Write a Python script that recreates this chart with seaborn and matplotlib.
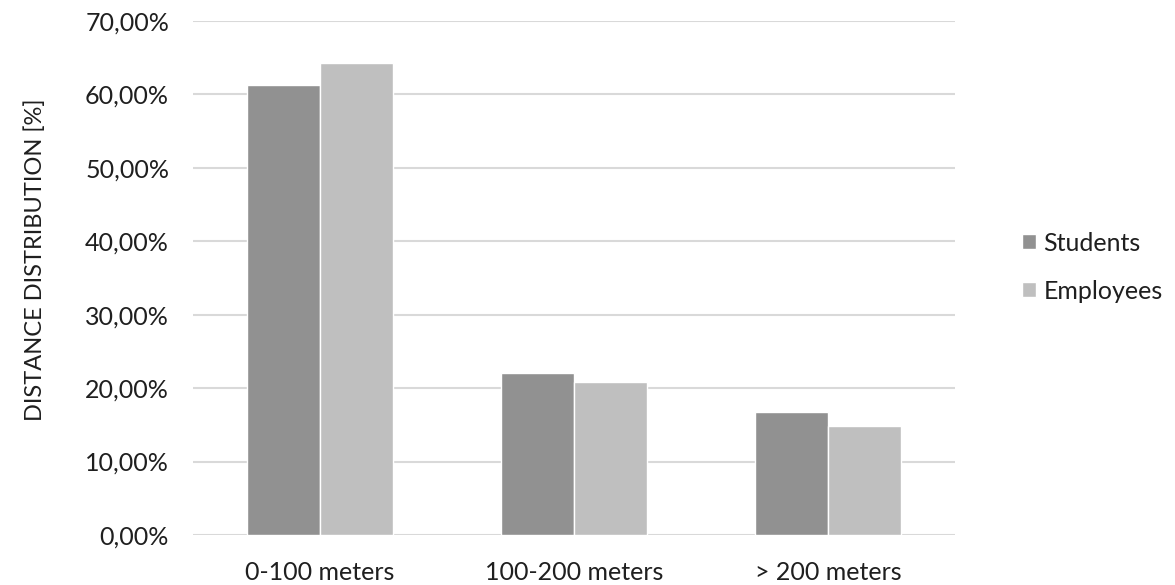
import numpy as np
import pandas as pd
import matplotlib
matplotlib.use("Agg")
import matplotlib.pyplot as plt
import seaborn as sns
from matplotlib.ticker import FuncFormatter

# values (percent)
categories = ["0-100 meters", "100-200 meters", "> 200 meters"]
students = [61.3, 22.1, 16.7]
employees = [64.3, 20.8, 14.8]
y_ticks = [0, 10, 20, 30, 40, 50, 60, 70]

df = pd.DataFrame({
    "distance": categories * 2,
    "group": ["Students"] * 3 + ["Employees"] * 3,
    "value": students + employees,
})

sns.set_style("white")
plt.rcParams['font.family'] = ['Lato', 'DejaVu Sans']
text_color = "#1f1f1f"

fig = plt.figure(figsize=(11.75, 5.85), dpi=100)
ax = fig.add_axes([0.164, 0.0855, 0.649, 0.8785])

sns.barplot(data=df, x="distance", y="value", hue="group",
            palette={"Students": "#919191", "Employees": "#bfbfbf"},
            width=0.576, saturation=1, ax=ax, zorder=3)

ax.set_xlim(-0.5, 2.5)
ax.set_ylim(0, 70)
ax.set_yticks(y_ticks)
ax.yaxis.set_major_formatter(FuncFormatter(lambda v, p: f"{v:.2f}%".replace(".", ",")))
ax.grid(axis='y', color="#d9d9d9", linewidth=1.5, zorder=0)
ax.set_axisbelow(True)
for s in ax.spines.values():
    s.set_visible(False)
ax.tick_params(axis='both', length=0, labelsize=18, labelcolor=text_color)
ax.tick_params(axis='y', pad=17)
ax.tick_params(axis='x', pad=19)
ax.set_xlabel("")
ax.set_ylabel("DISTANCE DISTRIBUTION [%]", fontsize=17, color=text_color, labelpad=28)
ax.yaxis.label.set_y(0.535)

leg = ax.legend(loc='center left', bbox_to_anchor=(1.088, 0.521), frameon=False,
                fontsize=18, handlelength=0.55, handleheight=0.55,
                handletextpad=0.3, labelspacing=1.0, borderpad=0, borderaxespad=0)
for t in leg.get_texts():
    t.set_color(text_color)

fig.savefig("out.png", dpi=100)
